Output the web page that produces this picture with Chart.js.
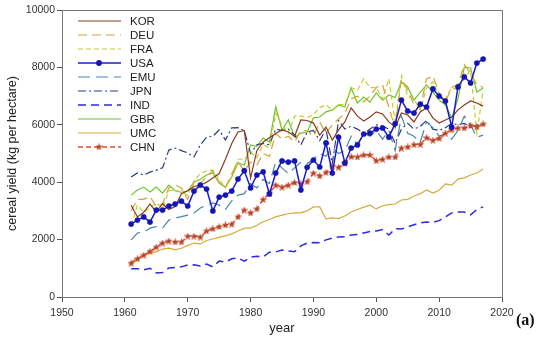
<!DOCTYPE html>
<html lang="en">
<head>
<meta charset="UTF-8">
<title>Cereal yield by country</title>
<script src="https://cdn.jsdelivr.net/npm/chart.js"></script>
<style>
  body { margin: 0; background: #fff; }
  .wrap { position: relative; width: 550px; height: 351px; }
  #tag {
    position: absolute; left: 516px; top: 311px;
    font: bold 16px 'Liberation Serif', 'DejaVu Serif', serif; color: #111;
  }
</style>
</head>
<body>
<div class="wrap">
  <canvas id="chart" width="550" height="351"></canvas>
  <div id="tag">(a)</div>
</div>
<script>
// years on the x axis
const years = [1961, 1962, 1963, 1964, 1965, 1966, 1967, 1968, 1969, 1970,
  1971, 1972, 1973, 1974, 1975, 1976, 1977, 1978, 1979, 1980,
  1981, 1982, 1983, 1984, 1985, 1986, 1987, 1988, 1989, 1990,
  1991, 1992, 1993, 1994, 1995, 1996, 1997, 1998, 1999, 2000,
  2001, 2002, 2003, 2004, 2005, 2006, 2007, 2008, 2009, 2010,
  2011, 2012, 2013, 2014, 2015, 2016, 2017];

// cereal yield, kg per hectare
const kor = [3200, 2790, 2950, 3240, 2960, 3250, 3050, 3150, 3600, 3700,
  3850, 3900, 4000, 4150, 4300, 4800, 5350, 5750, 5800, 4150,
  5100, 5400, 5550, 5700, 5820, 5750, 5600, 6170, 6150, 6060,
  5640, 5920, 5470, 5820, 6100, 6590, 6300, 6130, 6270, 6450,
  6380, 6100, 5920, 6410, 6340, 6100, 6450, 6590, 6240, 6060,
  6170, 6270, 6520, 6690, 6830, 6760, 6650];
const deu = [3000, 3400, 3400, 3500, 3150, 3250, 3800, 3900, 3800, 3400,
  4000, 3950, 4200, 4400, 4000, 3800, 4300, 4700, 4400, 4700,
  4600, 5000, 4900, 5700, 5500, 5600, 5400, 5800, 5800, 5600,
  6100, 5700, 6000, 6200, 6400, 6900, 7000, 6800, 7000, 7300,
  7400, 6600, 5900, 7600, 7200, 6700, 6600, 7600, 7700, 7100,
  6800, 7300, 7400, 8100, 7800, 7400, 7300];
const fra = [2500, 3200, 2950, 3100, 3280, 3100, 3700, 3730, 3650, 3550,
  4050, 4300, 4400, 4420, 4100, 3800, 4200, 4800, 4800, 5050,
  4850, 5300, 5200, 6400, 6000, 5700, 6300, 6300, 6250, 6360,
  6600, 6700, 6500, 6700, 6700, 7300, 7200, 7600, 7300, 7300,
  6900, 7600, 6100, 7700, 7000, 6900, 6500, 7300, 7500, 7000,
  6900, 7300, 7200, 7600, 7900, 5700, 7200];
const usa = [2540, 2680, 2790, 2610, 3030, 3030, 3170, 3240, 3340, 3170,
  3690, 3900, 3760, 3000, 3480, 3550, 3690, 4110, 4400, 3800,
  4250, 4360, 3590, 4320, 4740, 4700, 4740, 3730, 4520, 4770,
  4530, 5370, 4320, 5570, 4670, 5190, 5300, 5680, 5710, 5850,
  5890, 5570, 6040, 6860, 6480, 6410, 6720, 6620, 7250, 7000,
  6830, 5920, 7320, 7670, 7460, 8150, 8290];
const emu = [1990, 2230, 2260, 2400, 2450, 2400, 2680, 2750, 2800, 2850,
  2930, 3100, 3200, 3280, 3200, 3050, 3350, 3550, 3600, 3950,
  3800, 4100, 3950, 4700, 4500, 4300, 4500, 4700, 4650, 4800,
  5000, 4900, 5200, 5000, 5100, 5600, 5300, 5700, 5600, 5800,
  5500, 5800, 5100, 6300, 5700, 5600, 5400, 6100, 5900, 5600,
  5700, 5500, 5800, 6300, 6000, 5570, 5640];
const jpn = [4180, 4320, 4250, 4350, 4420, 4500, 5120, 5190, 5100, 5020,
  4880, 5300, 5570, 5600, 5820, 5470, 5890, 5900, 5800, 5000,
  5300, 5350, 5300, 5850, 5800, 5850, 5650, 5300, 5750, 5800,
  5450, 5850, 4650, 6150, 5850, 5950, 5850, 5700, 5850, 6000,
  5950, 5850, 5350, 5850, 6050, 5850, 5950, 6150, 5850, 5800,
  5900, 6050, 6000, 6050, 5900, 6000, 5950];
const ind = [980, 980, 950, 1000, 840, 850, 1010, 1030, 1050, 1115,
  1120, 1080, 1150, 1050, 1250, 1220, 1330, 1360, 1250, 1390,
  1420, 1400, 1560, 1570, 1640, 1600, 1580, 1780, 1880, 1900,
  1890, 1990, 2050, 2090, 2100, 2160, 2180, 2230, 2280, 2300,
  2350, 2160, 2380, 2370, 2440, 2520, 2580, 2610, 2600, 2660,
  2790, 2930, 2960, 2960, 2860, 3050, 3140];
const gbr = [3550, 3730, 3830, 3660, 3830, 3620, 3900, 3700, 3650, 3700,
  4000, 4100, 4250, 4320, 3970, 3830, 4180, 4670, 4600, 5300,
  5250, 5540, 5400, 6620, 5820, 6170, 5570, 5710, 5750, 6240,
  6270, 6450, 6520, 6690, 6620, 7280, 6760, 6970, 6790, 7110,
  6860, 7040, 6950, 7490, 7320, 6860, 7140, 7390, 7140, 6860,
  6690, 6240, 6900, 8010, 7980, 7140, 7280];
const umc = [1220, 1350, 1460, 1530, 1570, 1670, 1700, 1640, 1700, 1800,
  1880, 1850, 1970, 2020, 2080, 2130, 2200, 2300, 2400, 2400,
  2500, 2620, 2700, 2790, 2850, 2900, 2930, 2930, 3000, 3140,
  3140, 2720, 2760, 2730, 2820, 2960, 3050, 3130, 3200, 3070,
  3180, 3220, 3240, 3380, 3400, 3520, 3600, 3730, 3620, 3720,
  3940, 3900, 4110, 4150, 4250, 4320, 4460];
const chn = [1180, 1330, 1460, 1590, 1740, 1880, 1950, 1920, 1920, 2120,
  2120, 2090, 2300, 2380, 2450, 2510, 2540, 2790, 3030, 2930,
  3070, 3400, 3620, 3900, 3830, 3900, 3990, 3950, 4020, 4320,
  4220, 4340, 4560, 4520, 4660, 4890, 4880, 4950, 4950, 4750,
  4800, 4880, 4880, 5190, 5230, 5310, 5320, 5550, 5460, 5530,
  5710, 5830, 5890, 5890, 5980, 5930, 6030];

const xTicks = [1950, 1960, 1970, 1980, 1990, 2000, 2010, 2020];
const yTicks = [0, 2000, 4000, 6000, 8000, 10000];

// little filled star for the CHN markers
const star = document.createElement('canvas');
star.width = 7; star.height = 7;
(function () {
  const c = star.getContext('2d');
  c.beginPath();
  for (let i = 0; i < 10; i++) {
    const r = i % 2 ? 1.4 : 3.3;
    const a = -Math.PI / 2 + i * Math.PI / 5;
    c.lineTo(3.5 + r * Math.cos(a), 3.8 + r * Math.sin(a));
  }
  c.closePath();
  c.fillStyle = '#9a4a28';
  c.fill();
  c.strokeStyle = '#d8452a';
  c.lineWidth = 0.6;
  c.stroke();
})();

const pts = arr => years.map((y, i) => ({ x: y, y: arr[i] }));

function series(label, arr, color, dash, extra) {
  return Object.assign({
    label: label,
    data: pts(arr),
    borderColor: color,
    backgroundColor: color,
    borderWidth: 1.2,
    borderDash: dash,
    pointRadius: 0,
    tension: 0,
    order: 5
  }, extra || {});
}

const datasets = [
  series('KOR', kor, '#8b3a1e', []),
  series('DEU', deu, '#d6a334', [9, 5]),
  series('FRA', fra, '#c6cc2c', [5, 3]),
  series('USA', usa, '#1a1ad0', [], { borderWidth: 1.5, pointRadius: 2.6, pointBorderWidth: 0.5, pointBackgroundColor: '#1515b5', pointBorderColor: '#1515b5', order: 0 }),
  series('EMU', emu, '#4b86a6', [12, 6]),
  series('JPN', jpn, '#2b3b80', [8, 3, 2, 3]),
  series('IND', ind, '#2a2ae2', [8, 5], { borderWidth: 1.5 }),
  series('GBR', gbr, '#6cc62a', []),
  series('UMC', umc, '#d4aa3a', []),
  series('CHN', chn, '#e0482c', [5, 3], { borderWidth: 1.4, pointRadius: 3, pointStyle: star, order: 1 })
];

// legend drawn inside the plot, top left
const insideLegend = {
  id: 'insideLegend',
  afterDatasetsDraw(chart) {
    const ctx = chart.ctx;
    ctx.save();
    ctx.font = '11.5px "Liberation Sans", Arial, sans-serif';
    ctx.textBaseline = 'middle';
    chart.data.datasets.forEach((ds, i) => {
      const y = 21 + i * 14;
      ctx.strokeStyle = ds.borderColor;
      ctx.lineWidth = ds.borderWidth;
      ctx.setLineDash(ds.borderDash);
      ctx.beginPath();
      ctx.moveTo(78, y);
      ctx.lineTo(121, y);
      ctx.stroke();
      ctx.setLineDash([]);
      if (ds.label === 'USA') {
        ctx.fillStyle = ds.pointBackgroundColor;
        ctx.beginPath();
        ctx.arc(99, y, 2.9, 0, Math.PI * 2);
        ctx.fill();
      }
      if (ds.label === 'CHN') ctx.drawImage(star, 95.5, y - 3.8);
      ctx.fillStyle = '#222';
      ctx.fillText(ds.label, 130, y + 0.5);
    });
    ctx.restore();
  }
};

// box around the plot area
const frame = {
  id: 'frame',
  afterDraw(chart) {
    const a = chart.chartArea, ctx = chart.ctx;
    ctx.save();
    ctx.strokeStyle = '#777';
    ctx.lineWidth = 1;
    ctx.strokeRect(a.left + 0.5, a.top + 0.5, a.right - a.left, a.bottom - a.top);
    ctx.restore();
  }
};

const tickFont = { family: '"Liberation Sans", Arial, sans-serif', size: 10.5 };

new Chart(document.getElementById('chart'), {
  type: 'line',
  data: { datasets: datasets },
  options: {
    responsive: false,
    animation: false,
    devicePixelRatio: 1,
    layout: { padding: { top: 10, right: 48, bottom: 0, left: 0 } },
    plugins: { legend: { display: false }, tooltip: { enabled: false } },
    scales: {
      x: {
        type: 'linear',
        min: 1950, max: 2020,
        afterBuildTicks: s => { s.ticks = xTicks.map(v => ({ value: v })); },
        afterFit: s => { s.height = 54; },
        ticks: { font: tickFont, color: '#333', padding: 5, maxRotation: 0, callback: v => String(v) },
        grid: { drawOnChartArea: false, tickLength: 5, color: '#555' },
        border: { color: '#555' },
        title: { display: true, text: 'year', color: '#222', font: { family: '"Liberation Sans", Arial, sans-serif', size: 13 }, padding: { top: 0, bottom: 15 } }
      },
      y: {
        min: 0, max: 10000,
        afterBuildTicks: s => { s.ticks = yTicks.map(v => ({ value: v })); },
        afterFit: s => { s.width = 62; },
        ticks: { font: tickFont, color: '#333', padding: 2, callback: v => String(v) },
        grid: { drawOnChartArea: false, tickLength: 5, color: '#555' },
        border: { color: '#555' },
        title: { display: true, text: 'cereal yield (kg per hectare)', color: '#222', font: { family: '"Liberation Sans", Arial, sans-serif', size: 12.5 }, padding: { top: 5, bottom: 4 } }
      }
    }
  },
  plugins: [insideLegend, frame]
});
</script>
</body>
</html>
